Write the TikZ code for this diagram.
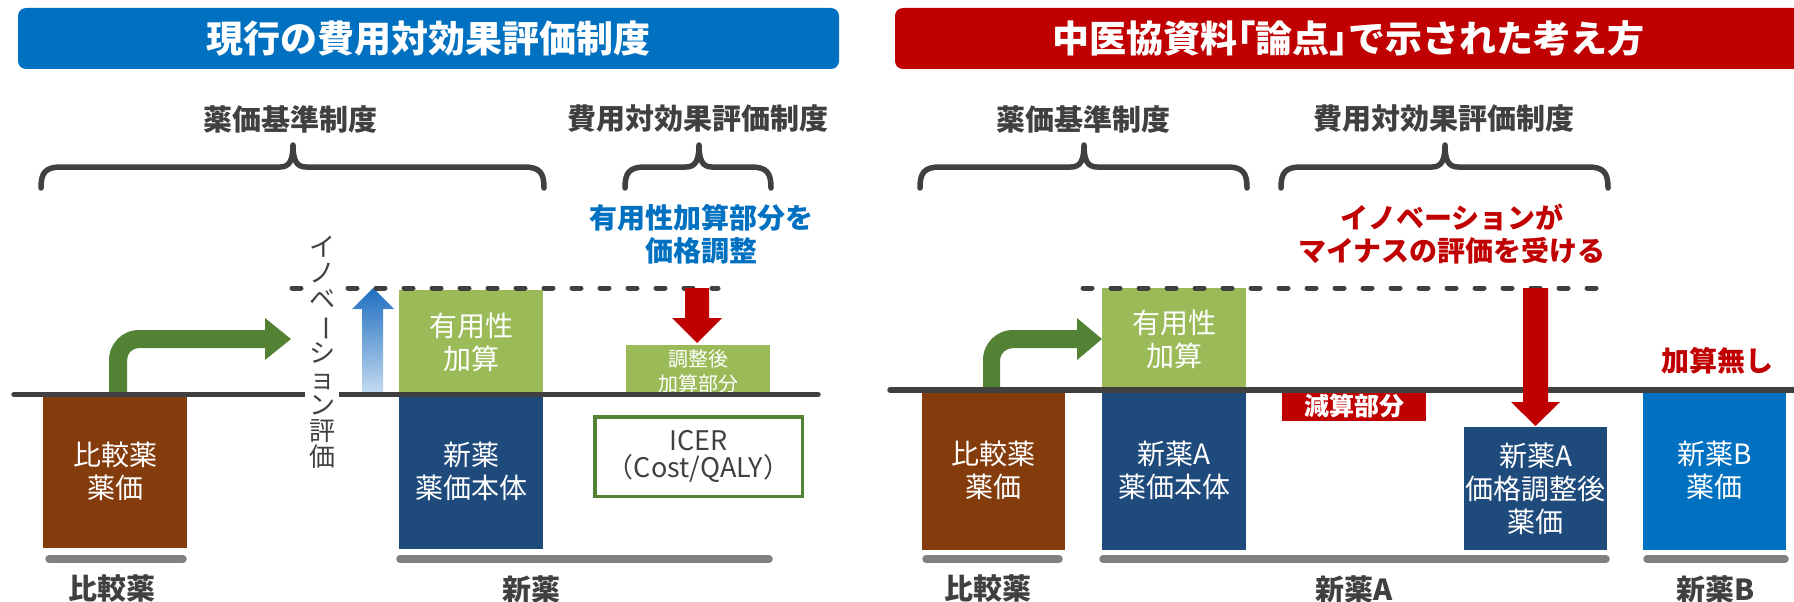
\documentclass[tikz,border=0pt]{standalone}
\usepackage{fontspec}
\usepackage{graphicx}
\setmainfont{Noto Sans CJK JP}
\definecolor{bannerBlue}{HTML}{0070C0}
\definecolor{bannerRed}{HTML}{C00000}
\definecolor{brownC}{HTML}{843C0C}
\definecolor{navyC}{HTML}{1F4A7C}
\definecolor{lgreen}{HTML}{9BBB59}
\definecolor{dgreen}{HTML}{548235}
\definecolor{dgray}{HTML}{404040}
\definecolor{barGray}{HTML}{808080}
\definecolor{arrTop}{HTML}{1F6EC0}
\definecolor{arrBot}{HTML}{C2DAF0}
\tikzset{
  banner/.style={text=white, inner sep=0pt, rounded corners=8pt, font=\bfseries\fontsize{37}{44}\selectfont},
  boxtxt/.style={text=white, align=center, inner sep=0pt, font=\fontsize{28}{33}\selectfont},
  seclabel/.style={text=dgray, inner sep=0pt, font=\bfseries\fontsize{29}{34}\selectfont},
  botlabel/.style={text=dgray, inner sep=0pt, font=\bfseries\fontsize{29}{34}\selectfont},
  note/.style={align=center, inner sep=0pt, font=\bfseries\fontsize{28}{33}\selectfont},
  bracestyle/.style={draw=dgray, line width=5.5pt, line cap=round, line join=round},
  bar/.style={draw=barGray, line width=7.5pt, line cap=round},
  baseline/.style={draw=dgray, line width=5.5pt, line cap=round},
  dashline/.style={draw=dgray, line width=5pt, line cap=round, dash pattern=on 9pt off 19pt},
}
\newcommand\mybrace[3]{%
  \draw[bracestyle] (#1,188) .. controls (#1,173) and ({#1+4},167) .. ({#1+20},167)
    -- ({#2-13},167) .. controls ({#2-4},167) and (#2,161) .. (#2,145)
    .. controls (#2,161) and ({#2+4},167) .. ({#2+13},167)
    -- ({#3-20},167) .. controls ({#3-4},167) and (#3,173) .. (#3,188);}
\newcommand\bentarrow[5]{% stem left x, stem right x, head back x, tip x, base y
  \fill[dgreen] (#1,#5) -- (#1,360) .. controls (#1,343.4) and ({#1+13.4},330) .. ({#1+30},330)
    -- (#3,330) -- (#3,318) -- (#4,339) -- (#3,360) -- (#3,348)
    -- ({#1+30},348) .. controls ({#1+23.4},348) and (#2,353.4) .. (#2,360) -- (#2,#5) -- cycle;}
\begin{document}
\begin{tikzpicture}[x=1pt,y=-1pt]
\useasboundingbox (0,0) rectangle (1794,602);
% ---------- banners ----------
\node[banner, fill=bannerBlue, minimum width=821pt, minimum height=61pt] (titleL) at (428.5,38.5) {現行の費用対効果評価制度};
\begin{scope}
\clip (0,0) rectangle (1794,602);
\node[banner, fill=bannerRed, minimum width=915pt, minimum height=61pt] (titleR) at (1352.5,38.5) {};
\node[banner] (titleRtext) at (1348,38.5) {中医協資料｢論点｣で示された考え方};
\end{scope}
% ---------- section labels and braces ----------
\node[seclabel] (secL1) at (290,119) {薬価基準制度};
\node[seclabel] (secL2) at (698,119) {費用対効果評価制度};
\node[seclabel] (secR1) at (1083,119) {薬価基準制度};
\node[seclabel] (secR2) at (1444,119) {費用対効果評価制度};
\mybrace{41}{293}{544}
\mybrace{625}{699}{771}
\mybrace{920}{1084}{1247}
\mybrace{1281}{1445}{1608}
% ---------- notes ----------
\node[note, text=bannerBlue] (noteL) at (701,234.5) {有用性加算部分を\\価格調整};
\node[note, text=bannerRed] (noteR) at (1452,234.5) {イノベーションが\\マイナスの評価を受ける};
% ---------- left boxes ----------
\node[boxtxt, fill=brownC, minimum width=144pt, minimum height=154pt] (cmpL) at (115,471) {比較薬\\薬価};
\node[boxtxt, fill=lgreen, minimum width=144pt, minimum height=104pt] (addL) at (471,342) {有用性\\加算};
\node[boxtxt, fill=navyC, minimum width=144pt, minimum height=155pt] (newL) at (471,471.5) {新薬\\薬価本体};
\node[boxtxt, fill=lgreen, minimum width=144pt, minimum height=49pt, font=\fontsize{20}{25}\selectfont] (adjL) at (698,369.5) {};
\node[boxtxt, font=\fontsize{20}{25}\selectfont] (adjLtxt) at (698,371) {調整後\\加算部分};
\node[draw=dgreen, line width=3.5pt, text=dgray, align=center, inner sep=0pt, minimum width=207.5pt, minimum height=79.5pt, font=\fontsize{27}{27}\selectfont] (icer) at (698.5,456.5) {ICER\\（Cost/QALY）};
% ---------- right boxes ----------
\node[boxtxt, fill=brownC, minimum width=143pt, minimum height=160pt] (cmpR) at (993.5,470) {比較薬\\薬価};
\node[boxtxt, fill=lgreen, minimum width=144pt, minimum height=102pt] (addR) at (1174,339) {有用性\\加算};
\node[boxtxt, fill=navyC, minimum width=144pt, minimum height=160pt] (newR) at (1174,470) {新薬A\\薬価本体};
\node[boxtxt, fill=bannerRed, minimum width=144pt, minimum height=31pt, font=\bfseries\fontsize{25}{25}\selectfont] (genzan) at (1354,405.5) {減算部分};
\node[boxtxt, fill=navyC, minimum width=143pt, minimum height=123pt] (adjR) at (1535.5,488.5) {新薬A\\価格調整後\\薬価};
\node[boxtxt, fill=bannerBlue, minimum width=143pt, minimum height=160pt] (newB) at (1714.5,470) {新薬B\\薬価};
\node[note, text=bannerRed] (nokasan) at (1717,361) {加算無し};
% ---------- arrows ----------
\bentarrow{109}{127}{265}{291}{392}
\bentarrow{983}{1000}{1077}{1102}{388}
\shade[top color=arrTop, bottom color=arrBot] (362,392) -- (362,309) -- (352,309) -- (373,288) -- (394,309) -- (383,309) -- (383,392) -- cycle;
% ---------- baselines and dashed lines ----------
\draw[baseline] (14,394.5) -- (818,394.5);
\draw[baseline] (890,390) -- (1800,390);
\draw[dashline] (292,288) -- (718,288);
\draw[dashline] (1083,288) -- (1598,288);
% red arrows
\fill[bannerRed] (685,288) -- (709,288) -- (709,318) -- (722,318) -- (697,343) -- (672,318) -- (685,318) -- cycle;
\fill[bannerRed] (1523,288) -- (1548,288) -- (1548,402) -- (1560,402) -- (1535.5,426) -- (1511,402) -- (1523,402) -- cycle;
% ---------- vertical text ----------
\node[fill=white, text=dgray, align=center, inner xsep=4pt, inner ysep=2pt, font=\fontsize{26}{26}\selectfont] (inov) at (322,352.5)
  {イ\\ノ\\ベ\\\rotatebox[origin=c]{-90}{ー}\\シ\\ョ\\ン\\評\\価};
% ---------- bottom bars and labels ----------
\draw[bar] (49,559) -- (183,559);
\draw[bar] (400,559) -- (769,559);
\draw[bar] (926,559) -- (1059,559);
\draw[bar] (1103,559) -- (1606,559);
\draw[bar] (1647,559) -- (1785,559);
\node[botlabel] (lblCmpL) at (112,589) {比較薬};
\node[botlabel] (lblNewL) at (531,589) {新薬};
\node[botlabel] (lblCmpR) at (988,589) {比較薬};
\node[botlabel] (lblNewA) at (1354,589) {新薬A};
\node[botlabel] (lblNewB) at (1716,589) {新薬B};
\end{tikzpicture}
\end{document}
